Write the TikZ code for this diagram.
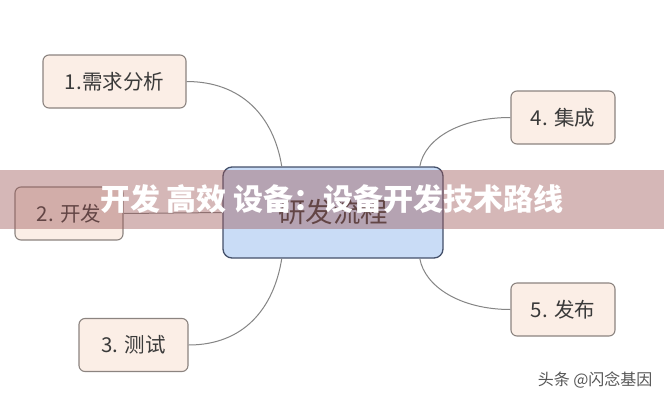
\documentclass[tikz,border=0pt]{standalone}
\usepackage{fontspec}
\setmainfont{Noto Sans CJK SC}
\usetikzlibrary{positioning}
\definecolor{stageink}{HTML}{3A3A3A}
\definecolor{stagefill}{HTML}{FBEEE6}
\definecolor{stageline}{HTML}{8C8480}
\definecolor{hubfill}{HTML}{C9DCF6}
\definecolor{hubline}{HTML}{44506A}
\definecolor{linkgray}{HTML}{858585}
\definecolor{bannerred}{HTML}{9B5555}

\begin{document}
\begin{tikzpicture}[
  x=1pt, y=-1pt,
  stage/.style={draw=stageline, line width=1.1pt, rounded corners=6pt, fill=stagefill,
                minimum height=53pt, text=stageink,
                font=\fontsize{20.5}{24}\selectfont},
  hub/.style={draw=hubline, line width=1.3pt, rounded corners=9pt, fill=hubfill,
              minimum width=220pt, minimum height=91pt, text=stageink,
              font=\fontsize{27.5}{32}\selectfont},
  link/.style={draw=linkgray, line width=1pt},
  banner/.style={fill=bannerred, fill opacity=0.42, text opacity=1, text=white,
                 minimum width=664pt, minimum height=59pt, inner sep=0pt,
                 font=\fontsize{30}{34}\selectfont\bfseries},
  credittext/.style={text=stageink!85, font=\fontsize{16}{18}\selectfont},
]
  \useasboundingbox (0,0) rectangle (664,400);
  \fill[white] (0,0) rectangle (664,400);

  \node[hub] (flow) at (333,212.5) {研发流程};
  \node[stage, minimum width=143pt] (req) at (114.5,81.5) {1.需求分析};
  \node[stage, minimum width=108pt] (dev) at (69,213.5) {2. 开发};
  \node[stage, minimum width=109pt] (test) at (133.5,345) {3. 测试};
  \node[stage, minimum width=104pt] (integ) at (563,117.5) {4. 集成};
  \node[stage, minimum width=104pt] (release) at (563,309.5) {5. 发布};

  \draw[link] (req.east) .. controls +(55,0) and +(-8,-50) .. (flow.138);
  \draw[link] (dev.east) -- (flow.west);
  \draw[link] (test.east) .. controls +(55,0) and +(-8,50) .. (flow.222);
  \draw[link] (integ.west) .. controls +(-50,0) and +(5,-28) .. (flow.28);
  \draw[link] (release.west) .. controls +(-50,0) and +(5,28) .. (flow.332);

  % overlay
  \node[banner] (title) at (332,199.5) {开发 高效 设备：设备开发技术路线};
  \node[credittext, anchor=east] (credit) at (656,380) {头条 @闪念基因};
\end{tikzpicture}
\end{document}
